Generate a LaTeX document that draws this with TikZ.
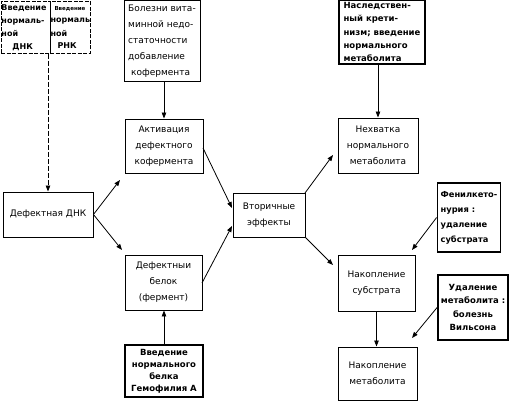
\documentclass[tikz,border=0pt]{standalone}
\usepackage{fontspec}
\setmainfont{DejaVu Sans}
\usetikzlibrary{arrows.meta,calc}
\begin{document}
\begin{tikzpicture}[x=1pt,y=-1pt,
  plainbox/.style={draw, line width=0.9pt, inner sep=0pt, align=center,
    font=\fontsize{9}{16}\selectfont},
  boldbox/.style={draw, line width=1.8pt, inner sep=0pt,
    font=\fontsize{8.5}{13}\selectfont\bfseries},
  dashbox/.style={draw, line width=0.9pt, dash pattern=on 4pt off 1.5pt, inner sep=0pt,
    font=\fontsize{8}{13}\selectfont\bfseries},
  conn/.style={line width=0.8pt, -{Triangle[length=6pt,width=4.5pt]}}]
\useasboundingbox (0,0) rectangle (512,403);
% top-left dashed boxes
\node[dashbox, minimum width=49pt, minimum height=52pt, text width=48pt, align=left] (dna) at (25.5,27.5)
  {Введение\\нормаль-\\ной\\\hspace*{11pt}ДНК};
\node[dashbox, minimum width=40pt, minimum height=52pt, text width=39pt, align=left] (rna) at (70,27.5)
  {{\fontsize{5.5}{7}\selectfont\hspace*{4pt}Введение}\\нормаль\\ной\\\hspace*{7pt}РНК};
% left column
\node[plainbox, minimum width=90pt, minimum height=45pt] (dnk) at (48,214.5) {Дефектная ДНК};
% second column
\node[plainbox, minimum width=76pt, minimum height=81pt, align=left] (bol) at (162,41)
  {Болезни вита-\\минной недо-\\статочности\\добавление\\\hspace*{3pt}кофермента};
\node[plainbox, minimum width=78pt, minimum height=54pt] (akt) at (164,146)
  {Активация\\дефектного\\кофермента};
\node[plainbox, minimum width=77pt, minimum height=55pt] (defb) at (163.5,282.5)
  {Дефектныи\\белок\\(фермент)};
\node[boldbox, minimum width=78pt, minimum height=52pt, align=center,
  font=\fontsize{8.5}{12}\selectfont\bfseries] (vvb) at (164,371)
  {Введение\\нормального\\белка\\Гемофилия А};
% middle
\node[plainbox, minimum width=72pt, minimum height=44pt] (vtor) at (269,215)
  {Вторичные\\эффекты};
% right column
\node[boldbox, minimum width=86pt, minimum height=64pt, align=left,
  font=\fontsize{8.5}{13.3}\selectfont\bfseries] (nasl) at (382,32)
  {Наследствен-\\ный крети-\\низм; введение\\нормального\\метаболита};
\node[plainbox, minimum width=80pt, minimum height=55pt] (nekh) at (378,145.5)
  {Нехватка\\нормального\\метаболита};
\node[plainbox, minimum width=77pt, minimum height=56pt] (naks) at (376.5,283)
  {Накопление\\субстрата};
\node[plainbox, minimum width=79pt, minimum height=53pt] (nakm) at (377.5,373.5)
  {Накопление\\метаболита};
\node[boldbox, minimum width=63pt, minimum height=69pt, align=left,
  font=\fontsize{8.3}{15}\selectfont\bfseries] (fen) at (469,217.5)
  {Фенилкето-\\нурия :\\удаление\\субстрата};
\node[boldbox, minimum width=70pt, minimum height=65pt, align=center,
  font=\fontsize{8.5}{13.3}\selectfont\bfseries] (udal) at (473,307.5)
  {Удаление\\метаболита :\\болезнь\\Вильсона};
% arrow tip coordinates
\coordinate (t1) at (120,180);
\coordinate (t2) at (122,250);
\coordinate (t3) at (232,208);
\coordinate (t4) at (232,226);
\coordinate (t5) at (333,155);
\coordinate (t6) at (333,265);
\coordinate (t7) at (412,250);
\coordinate (t8) at (412,338);
\coordinate (s1) at (203,148);
\coordinate (s2) at (202,283);
\coordinate (s3) at (305,193);
\coordinate (s4) at (305,237);
% connectors
\draw[conn, dash pattern=on 5pt off 2pt] (dnk.north |- dna.south) -- (dnk.north);
\draw[conn] (dnk.east) -- (t1);
\draw[conn] (dnk.east) -- (t2);
\draw[conn] (bol.south -| akt.north) -- (akt.north);
\draw[conn] (vvb.north) -- (vvb.north |- defb.south);
\draw[conn] (s1) -- (t3);
\draw[conn] (s2) -- (t4);
\draw[conn] (s3) -- (t5);
\draw[conn] (s4) -- (t6);
\draw[conn] (nekh.north |- nasl.south) -- (nekh.north);
\draw[conn] (naks.south) -- (naks.south |- nakm.north);
\draw[conn] (fen.west) -- (t7);
\draw[conn] (udal.west) -- (t8);
\end{tikzpicture}
\end{document}
